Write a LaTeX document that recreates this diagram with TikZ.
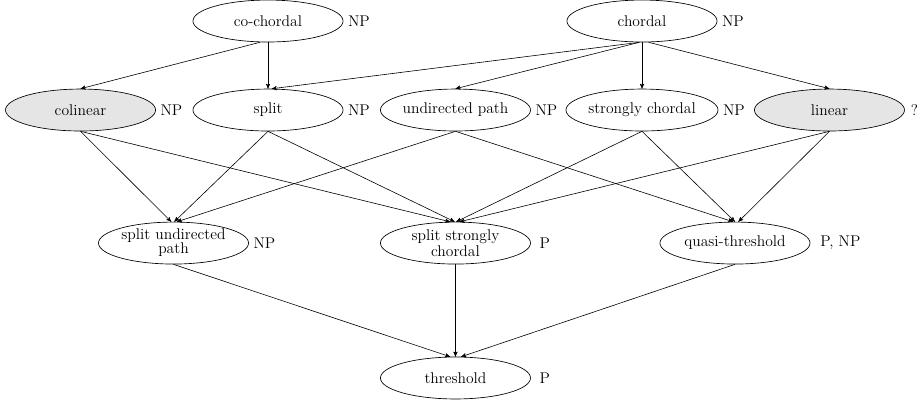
\documentclass[tikz,border=0pt]{standalone}
\usepackage{tikz}
\usetikzlibrary{arrows, positioning, shapes.geometric}
\tikzstyle{cls}=[ellipse, draw, line width=0.5pt, minimum width=3.97cm, minimum height=1.11cm, inner sep=0pt, align=center, label distance=-2pt]
\tikzstyle{greyclass}=[cls, fill=black!10]
\tikzstyle{sub}=[->, >=stealth', line width=0.45pt]

\begin{document}
\begin{tikzpicture}[node distance=4.96cm, font=\fontsize{11.7}{10.5}\selectfont]
\useasboundingbox (-7.091,-10.028) rectangle (17.330,0.556);
\node[cls] (cochordal) [label=0:{NP}] {co-chordal};
\node[cls] (chordal) [node distance=9.895cm, right of=cochordal, label=0:{NP}] {chordal};

\node[cls] (split) [node distance=2.355cm, below of=cochordal, label=0:{NP}] {split};
\node[greyclass] (colinear) [left of=split, label=0:{NP}] {colinear};
\node[cls] (upath) [right of=split, label=0:{NP}] {undirected path};
\node[cls] (schordal) [node distance=2.355cm, below of=chordal, label=0:{NP}] {strongly chordal};
\node[greyclass] (linear) [right of=schordal, label={[label distance=1pt]0:{?}}] {linear};

\node[cls] (supath) [node distance=3.52cm, below of=colinear, xshift=2.46cm, label=0:{NP}] {split undirected\\path};
\node[cls] (sschordal) [node distance=3.52cm, below of=upath, label={[label distance=3pt]0:{P}}] {split strongly\\chordal};
\node[cls] (qthreshold) [node distance=3.52cm, below of=schordal, xshift=2.46cm, label={[label distance=4pt]0:{P, NP}}] {quasi-threshold};

\node[cls] (threshold) [node distance=3.57cm, below of=sschordal, label={[label distance=3pt]0:{P}}] {threshold};

% inclusions: parent/anchor/child/anchor
\foreach \p/\s/\c/\t in {cochordal/250/colinear/90, cochordal/270/split/90,
		chordal/263/split/80, chordal/263/upath/90, chordal/270/schordal/90, chordal/287/linear/90,
		colinear/270/supath/96, colinear/270/sschordal/104,
		split/270/supath/88, split/270/sschordal/92,
		upath/270/supath/81, upath/270/qthreshold/95,
		schordal/270/sschordal/88, schordal/270/qthreshold/90,
		linear/270/sschordal/79, linear/270/qthreshold/81,
		supath/270/threshold/104, sschordal/270/threshold/90, qthreshold/270/threshold/75}
	\draw[sub] (\p.\s) -- (\c.\t);
\end{tikzpicture}
\end{document}
